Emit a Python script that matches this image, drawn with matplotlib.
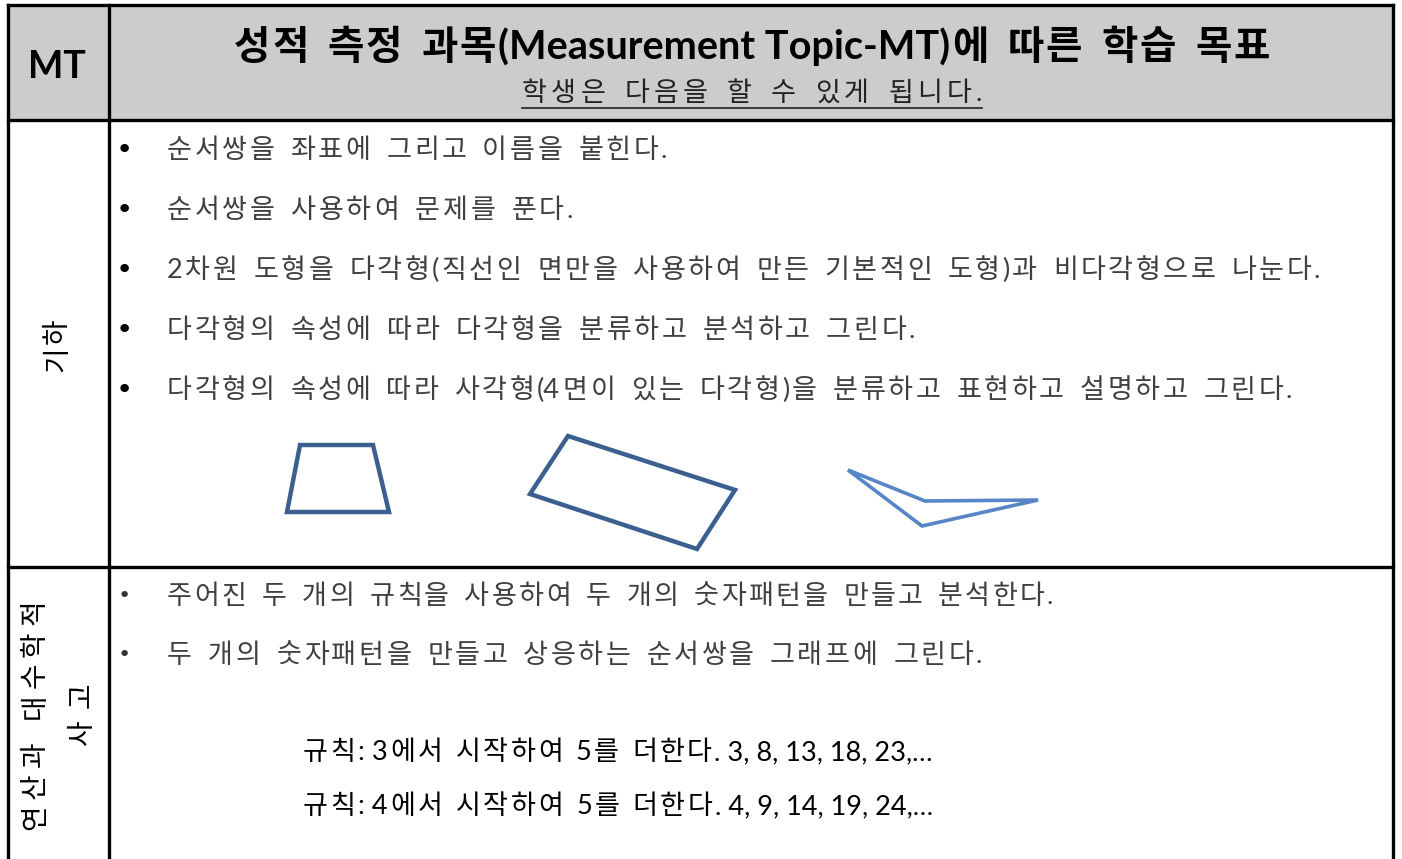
import re
import matplotlib
matplotlib.use("Agg")
import matplotlib.pyplot as plt
from matplotlib.patches import Rectangle, Polygon

plt.rcParams['font.family'] = ['Lato', 'Noto Sans CJK KR', 'DejaVu Sans']

# --- 표 내용 ---
header_mt = "MT"
header_title = "성적 측정 과목(Measurement Topic-MT)에 따른 학습 목표"
header_sub = "학생은 다음을 할 수 있게 됩니다."

topics = ["기하", "연산과 대수학적", "사고"]

geometry_items = [
    "순서쌍을 좌표에 그리고 이름을 붙힌다.",
    "순서쌍을 사용하여 문제를 푼다.",
    "2차원 도형을 다각형(직선인 면만을 사용하여 만든 기본적인 도형)과 비다각형으로 나눈다.",
    "다각형의 속성에 따라 다각형을 분류하고 분석하고 그린다.",
    "다각형의 속성에 따라 사각형(4면이 있는 다각형)을 분류하고 표현하고 설명하고 그린다.",
]
algebra_items = [
    "주어진 두 개의 규칙을 사용하여 두 개의 숫자패턴을 만들고 분석한다.",
    "두 개의 숫자패턴을 만들고 상응하는 순서쌍을 그래프에 그린다.",
]
rules = [
    "규칙: 3에서 시작하여 5를 더한다. 3, 8, 13, 18, 23,…",
    "규칙: 4에서 시작하여 5를 더한다. 4, 9, 14, 19, 24,…",
]

# 도형 꼭짓점
trapezoid = [(287, 512), (389, 512), (373, 445), (300, 445)]
rectangle = [(568, 436), (735, 490), (697, 549), (530, 494)]
dart = [(848, 470), (925, 501), (1038, 500), (922, 526)]

# --- 레이아웃 (픽셀) ---
W, H = 1402, 859
left, right, top = 8, 1393, 5
col_x = 109
head_bot = 120
row_y = 567
geo_right = [667, 573, 1320, 915, 1292]
alg_right = [1053, 982]
rule_right = 933

fig = plt.figure(figsize=(W / 100, H / 100), dpi=100)
ax = fig.add_axes([0, 0, 1, 1])
ax.set_xlim(0, W)
ax.set_ylim(H, 0)
ax.axis('off')
renderer = fig.canvas.get_renderer()

HANGUL = '\uac00-\ud7a3'
token_re = re.compile(f'[{HANGUL}]|[^{HANGUL} ]+(?: +[^{HANGUL} ]+)*| ')


def tracked(start, end, pos, text, fs, vertical=False, space=0.4, **kw):
    # 원본 문서처럼 글자 사이를 벌려서 줄 길이를 맞춘다
    toks = token_re.findall(text)
    objs, sizes = [], []
    for t in toks:
        if t == ' ':
            objs.append(None)
            sizes.append(space * fs * 100 / 72)
            continue
        if vertical:
            o = ax.text(pos, 0, t, fontsize=fs, rotation=90, rotation_mode='anchor',
                        ha='left', va='center', **kw)
            sizes.append(o.get_window_extent(renderer).height)
        else:
            o = ax.text(0, pos, t, fontsize=fs, ha='left', va='baseline', **kw)
            sizes.append(o.get_window_extent(renderer).width)
        objs.append(o)
    gap = (abs(end - start) - sum(sizes)) / max(len(toks) - 1, 1)
    p = start
    for o, s in zip(objs, sizes):
        if o is not None:
            if vertical:
                o.set_y(p)
            else:
                o.set_x(p)
        p = p - (s + gap) if vertical else p + s + gap


ax.add_patch(Rectangle((left, top), right - left, head_bot - top,
                       facecolor='#cccccc', edgecolor='none'))
lw = 2.4
ax.plot([left, right], [top, top], color='black', lw=lw)
ax.plot([left, right], [head_bot, head_bot], color='black', lw=lw)
ax.plot([left, right], [row_y, row_y], color='black', lw=lw)
ax.plot([left, left], [top, H + 5], color='black', lw=lw)
ax.plot([right, right], [top, H + 5], color='black', lw=lw)
ax.plot([col_x, col_x], [top, H + 5], color='black', lw=lw)

ax.text(57, 67, header_mt, fontsize=27, fontweight='bold', ha='center', va='center')
tracked(234, 1270, 59, header_title, 28.5, fontweight='bold', color='black')
tracked(522, 982, 101, header_sub, 19.5, color='#222222')
ax.plot([522, 982], [108, 108], color='#222222', lw=1.2)

tracked(372, 318, 57, topics[0], 20, vertical=True, color='black')
tracked(830, 600, 35, topics[1], 20, vertical=True, color='black')
tracked(745, 682, 82, topics[2], 20, vertical=True, color='black')

body_color = '#404040'
for i, s in enumerate(geometry_items):
    y = 150 + i * 60
    ax.text(124, y, "•", fontsize=21, ha='center', va='center', color='black',
            family='DejaVu Sans')
    tracked(167, geo_right[i], y + 8, s, 19.5, color=body_color)

for i, s in enumerate(algebra_items):
    y = 596 + i * 59
    ax.text(124, y, "•", fontsize=16, ha='center', va='center', color='#333333',
            family='DejaVu Sans')
    tracked(167, alg_right[i], y + 8, s, 19.5, color=body_color)

for i, s in enumerate(rules):
    y = 752 + i * 54
    tracked(303, rule_right, y + 8, s, 19.5, space=0.3, color='black')

dark_blue = '#3b5f8f'
light_blue = '#5686c6'
ax.add_patch(Polygon(trapezoid, closed=True, fill=False, edgecolor=dark_blue, lw=3.2))
ax.add_patch(Polygon(rectangle, closed=True, fill=False, edgecolor=dark_blue, lw=3.2))
ax.add_patch(Polygon(dart, closed=True, fill=False, edgecolor=light_blue, lw=2.6))

fig.savefig("out.png", dpi=100)
plt.close('all')
